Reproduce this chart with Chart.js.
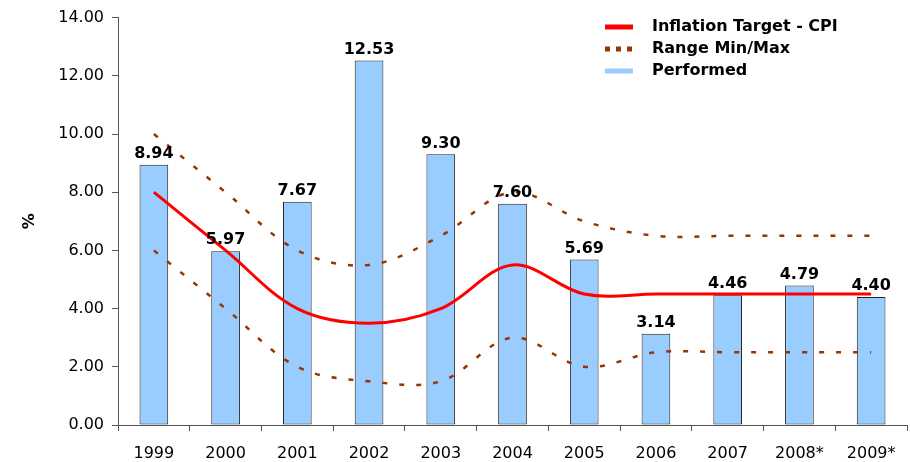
<!DOCTYPE html>
<html>
<head>
<meta charset="utf-8">
<script src="https://cdn.jsdelivr.net/npm/chart.js@4.4.1/dist/chart.umd.min.js"></script>
<style>
  html, body { margin: 0; padding: 0; background: #fff; }
  #wrap { width: 910px; height: 462px; }
</style>
</head>
<body>
<div id="wrap"><canvas id="cpiChart"></canvas></div>
<script>
// --- data ---
const years = ['1999', '2000', '2001', '2002', '2003', '2004', '2005', '2006', '2007', '2008*', '2009*'];
const performed = [8.94, 5.97, 7.67, 12.53, 9.30, 7.60, 5.69, 3.14, 4.46, 4.79, 4.40];
const target = [8.0, 6.0, 4.0, 3.5, 4.0, 5.5, 4.5, 4.5, 4.5, 4.5, 4.5];
const rangeMax = [10.0, 8.0, 6.0, 5.5, 6.5, 8.0, 7.0, 6.5, 6.5, 6.5, 6.5];
const rangeMin = [6.0, 4.0, 2.0, 1.5, 1.5, 3.0, 2.0, 2.5, 2.5, 2.5, 2.5];
const yTicks = [0, 2, 4, 6, 8, 10, 12, 14];

const FONT = 'DejaVu Sans';
const RED = '#ff0000';
const BROWN = '#993300';
const BLUE = '#99ccff';

// values above the bars
const barLabels = {
    id: 'barLabels',
    afterDatasetsDraw(chart) {
        const ctx = chart.ctx;
        const meta = chart.getDatasetMeta(0);
        ctx.save();
        ctx.font = 'bold 16px "' + FONT + '"';
        ctx.fillStyle = '#000';
        ctx.textAlign = 'center';
        ctx.textBaseline = 'bottom';
        meta.data.forEach((bar, i) => {
            ctx.fillText(performed[i].toFixed(2), bar.x, bar.y - 3);
        });
        ctx.restore();
    }
};

// legend block in the top right corner
const cornerLegend = {
    id: 'cornerLegend',
    afterDraw(chart) {
        const ctx = chart.ctx;
        const x0 = 605, x1 = 633, tx = 652;
        const rows = [27, 49, 71];
        ctx.save();
        ctx.lineWidth = 5;
        // target
        ctx.strokeStyle = RED;
        ctx.beginPath(); ctx.moveTo(x0, rows[0]); ctx.lineTo(x1, rows[0]); ctx.stroke();
        // range
        ctx.strokeStyle = BROWN;
        ctx.setLineDash([5, 6]);
        ctx.beginPath(); ctx.moveTo(x0, rows[1]); ctx.lineTo(x1 + 2, rows[1]); ctx.stroke();
        ctx.setLineDash([]);
        // performed
        ctx.strokeStyle = BLUE;
        ctx.beginPath(); ctx.moveTo(x0, rows[2]); ctx.lineTo(x1, rows[2]); ctx.stroke();

        ctx.font = 'bold 16px "' + FONT + '"';
        ctx.fillStyle = '#000';
        ctx.textBaseline = 'middle';
        ctx.fillText('Inflation Target - CPI', tx, rows[0]);
        ctx.fillText('Range Min/Max', tx, rows[1]);
        ctx.fillText('Performed', tx, rows[2]);
        ctx.restore();
    }
};

const dotted = {
    type: 'line',
    borderColor: BROWN,
    borderWidth: 2.5,
    borderDash: [5, 12],
    pointRadius: 0,
    tension: 0.35,
    fill: false,
    order: 1
};

new Chart(document.getElementById('cpiChart'), {
    type: 'bar',
    data: {
        labels: years,
        datasets: [
            {
                label: 'Performed',
                data: performed,
                backgroundColor: BLUE,
                borderColor: '#222',
                borderWidth: 1,
                borderSkipped: false,
                categoryPercentage: 1.0,
                barPercentage: 0.4,
                order: 3
            },
            Object.assign({ label: 'Range Max', data: rangeMax }, dotted),
            Object.assign({ label: 'Range Min', data: rangeMin }, dotted),
            {
                type: 'line',
                label: 'Inflation Target - CPI',
                data: target,
                borderColor: RED,
                borderWidth: 3,
                pointRadius: 0,
                tension: 0.35,
                fill: false,
                order: 0
            }
        ]
    },
    options: {
        responsive: true,
        maintainAspectRatio: false,
        animation: false,
        layout: { padding: { left: 0, right: 3, top: 15, bottom: 0 } },
        plugins: {
            legend: { display: false },
            tooltip: { enabled: false }
        },
        scales: {
            x: {
                grid: { display: true, drawOnChartArea: false, offset: true, tickLength: 6, color: '#555' },
                border: { color: '#555' },
                ticks: { color: '#000', font: { family: FONT, size: 16 }, padding: 13, maxRotation: 0 },
                afterFit(scale) { scale.height = 37; }
            },
            y: {
                min: 0,
                max: 14,
                afterBuildTicks(scale) { scale.ticks = yTicks.map(v => ({ value: v })); },
                grid: { display: true, drawOnChartArea: false, tickLength: 6, color: '#555' },
                border: { color: '#555' },
                ticks: {
                    color: '#000',
                    font: { family: FONT, size: 16 },
                    padding: 8,
                    callback: v => v.toFixed(2)
                },
                title: {
                    display: true,
                    text: '%',
                    color: '#000',
                    font: { family: FONT, size: 16, weight: 'bold' },
                    padding: { top: 20, bottom: 0 }
                },
                afterFit(scale) { scale.width = 118; }
            }
        }
    },
    plugins: [barLabels, cornerLegend]
});
</script>
</body>
</html>
